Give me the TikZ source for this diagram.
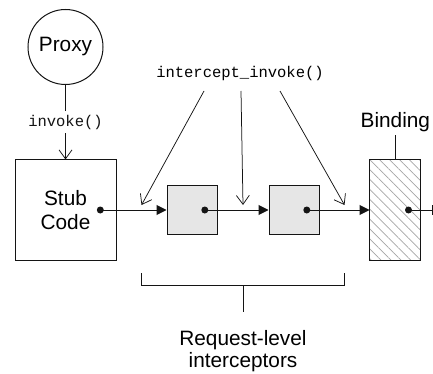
\documentclass[tikz,border=0pt]{standalone}
\usepackage{fontspec}
\setmainfont{Liberation Sans}
\setmonofont{Liberation Mono}
\usepackage{tikz}
\usetikzlibrary{arrows.meta, positioning, calc, patterns.meta}
\definecolor{icptcolor}{RGB}{230, 230, 230}
\definecolor{hatchcolor}{RGB}{165, 165, 165}
\definecolor{linecolor}{RGB}{20, 20, 20}
\tikzset{
    % Base styles
    basenode/.style={
        draw=linecolor, line width=1pt, align=center, inner sep=0pt
    },
    % Specific node types
    proxynode/.style={basenode, circle, minimum size=75pt},
    stubnode/.style={basenode, minimum width=101pt, minimum height=100pt},
    icptnode/.style={basenode, fill=icptcolor, minimum width=50pt, minimum height=49pt},
    bindnode/.style={basenode, minimum width=51pt, minimum height=101pt,
        pattern={Lines[angle=-45, distance=7pt, line width=0.7pt]},
        pattern color=hatchcolor},
    dot/.style={circle, fill=linecolor, inner sep=0pt, minimum size=7pt},
    % Arrows
    flowarrow/.style={-{Triangle[length=10pt, width=10pt]}, line width=1pt, linecolor},
    callarrow/.style={-{Straight Barb[length=9pt, width=13pt]}, line width=0.75pt, linecolor},
    plainline/.style={line width=1pt, linecolor},
    % Labels
    codelabel/.style={font=\fontsize{15.5}{18}\selectfont\ttfamily},
}
\begin{document}
\begin{tikzpicture}[every node/.style={font=\fontsize{20.8}{22}\selectfont}]
\useasboundingbox (0,0) rectangle (433pt,-374pt);

% ===== Stub and proxy =====
\node (stub) [stubnode] at (65.5pt,-210pt) {Stub\\[2pt]Code};
\node (proxy) [proxynode, above=74.5pt of stub] {Proxy};

\draw[callarrow] (proxy) -- node[codelabel, fill=white, inner sep=4pt] {invoke()} (stub);

% ===== Interceptor chain =====
\node (icpt1) [icptnode, right=50pt of stub] {};
\node (icpt2) [icptnode, right=51pt of icpt1] {};
\node (binding) [bindnode, right=50pt of icpt2] {};
\node (bindlbl) [above=24pt of binding] {Binding};

\draw[plainline] (bindlbl) -- (binding);

% dots
\node (stubdot) [dot, left=12.5pt of stub.east] {};
\node (icptdot1) [dot, left=9pt of icpt1.east] {};
\node (icptdot2) [dot, left=9pt of icpt2.east] {};
\node (binddot) [dot, left=9pt of binding.east] {};
\coordinate (bindout) at ($(binding.east)+(12pt,0)$);

\draw[flowarrow] (stubdot.center) -- (icpt1);
\draw[flowarrow] (icptdot1.center) -- (icpt2);
\draw[flowarrow] (icptdot2.center) -- (binding);
\draw[plainline, -{Bar[width=10pt]}] (binddot.center) -- (bindout);

% ===== intercept_invoke() calls =====
\node (intlbl) [codelabel] at (240pt,-73pt) {intercept\_invoke()};

\coordinate (src1) at ($(intlbl.center)+(-36pt,-18pt)$);
\coordinate (src2) at ($(intlbl.center)+(1pt,-18pt)$);
\coordinate (src3) at ($(intlbl.center)+(40pt,-18pt)$);
\coordinate (tip1) at ($(stub.east)!0.5!(icpt1.west)+(0,5pt)$);
\coordinate (tip2) at ($(icpt1.east)!0.5!(icpt2.west)+(0,5pt)$);
\coordinate (tip3) at ($(icpt2.east)!0.5!(binding.west)+(0,5pt)$);

\draw[callarrow] (src1) -- (tip1);
\draw[callarrow] (src2) -- (tip2);
\draw[callarrow] (src3) -- (tip3);

% ===== Request-level bracket =====
\coordinate (brl) at ($(tip1)+(0,-68pt)$);
\coordinate (brr) at ($(tip3)+(0,-68pt)$);
\coordinate (brm) at ($(brl)!0.5!(brr)+(0,-12pt)$);
\coordinate (brstem) at ($(brm)+(0,-27pt)$);

\draw[plainline] (brl) -- ++(0,-12pt) -- ($(brr)+(0,-12pt)$) -- (brr);
\draw[plainline] (brm) -- (brstem);

\node (reqlbl) [below=15pt of brstem, align=center] {Request-level\\interceptors};

\end{tikzpicture}
\end{document}
